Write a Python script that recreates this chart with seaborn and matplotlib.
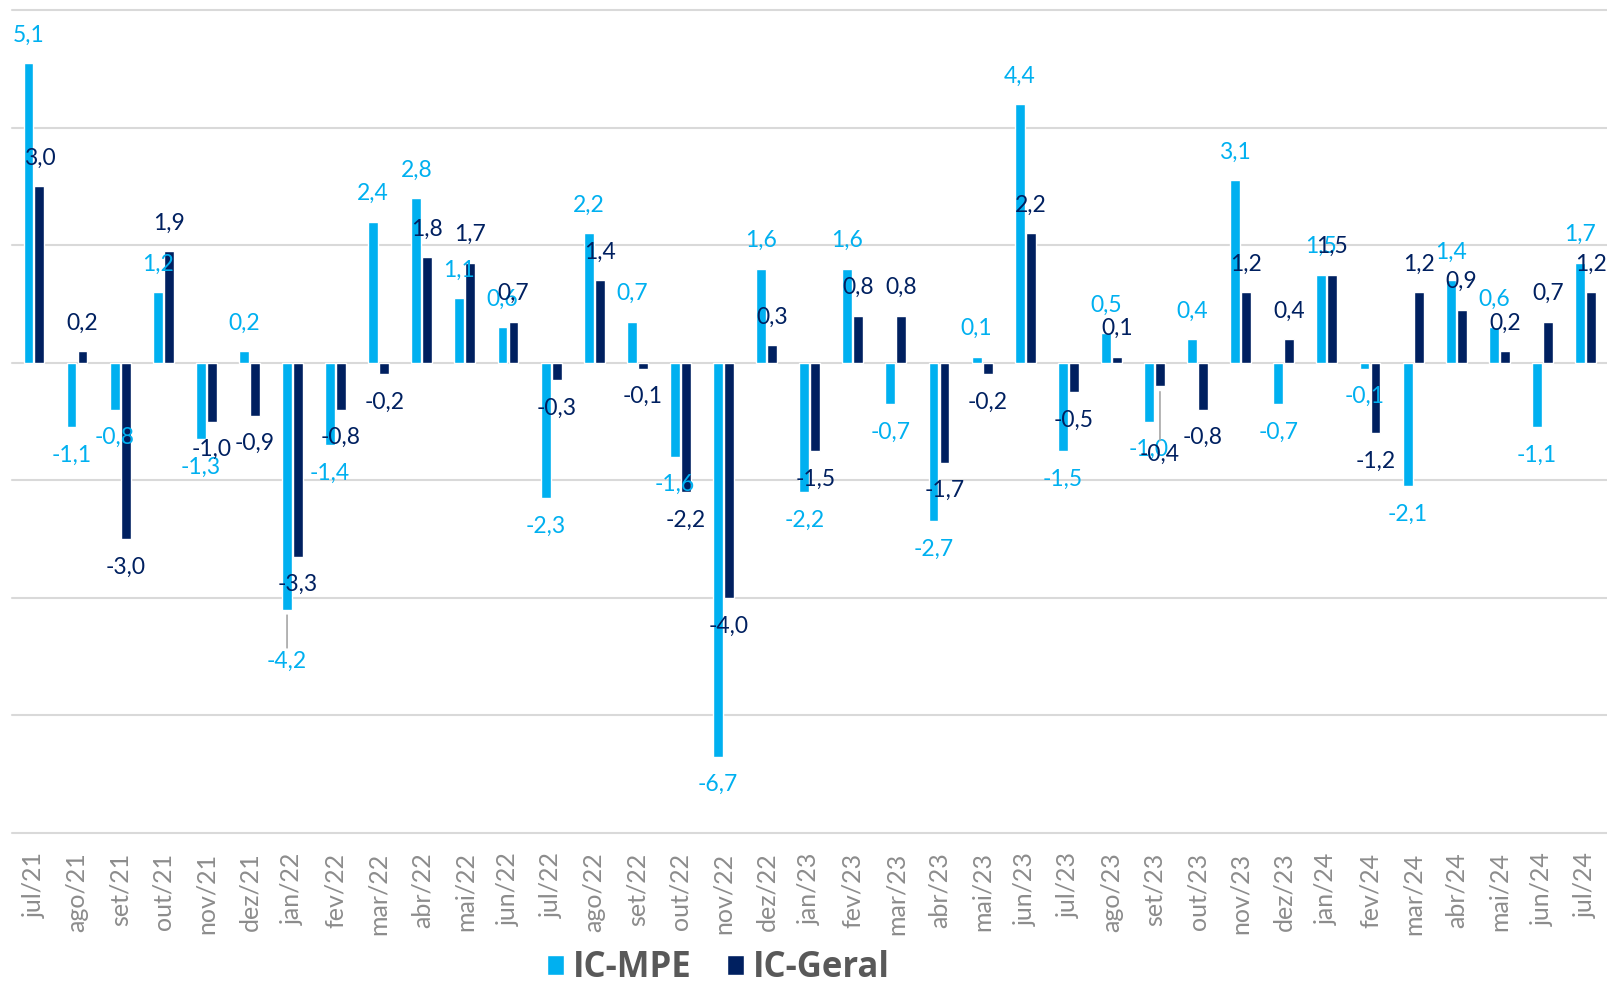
import pandas as pd
import matplotlib.pyplot as plt
import seaborn as sns

meses = ["jul/21", "ago/21", "set/21", "out/21", "nov/21", "dez/21",
         "jan/22", "fev/22", "mar/22", "abr/22", "mai/22", "jun/22",
         "jul/22", "ago/22", "set/22", "out/22", "nov/22", "dez/22",
         "jan/23", "fev/23", "mar/23", "abr/23", "mai/23", "jun/23",
         "jul/23", "ago/23", "set/23", "out/23", "nov/23", "dez/23",
         "jan/24", "fev/24", "mar/24", "abr/24", "mai/24", "jun/24",
         "jul/24"]
ic_mpe = [5.1, -1.1, -0.8, 1.2, -1.3, 0.2,
          -4.2, -1.4, 2.4, 2.8, 1.1, 0.6,
          -2.3, 2.2, 0.7, -1.6, -6.7, 1.6,
          -2.2, 1.6, -0.7, -2.7, 0.1, 4.4,
          -1.5, 0.5, -1.0, 0.4, 3.1, -0.7,
          1.5, -0.1, -2.1, 1.4, 0.6, -1.1,
          1.7]
ic_geral = [3.0, 0.2, -3.0, 1.9, -1.0, -0.9,
            -3.3, -0.8, -0.2, 1.8, 1.7, 0.7,
            -0.3, 1.4, -0.1, -2.2, -4.0, 0.3,
            -1.5, 0.8, 0.8, -1.7, -0.2, 2.2,
            -0.5, 0.1, -0.4, -0.8, 1.2, 0.4,
            1.5, -1.2, 1.2, 0.9, 0.2, 0.7,
            1.2]
series = ["IC-MPE", "IC-Geral"]
cores = {"IC-MPE": "#00B0F0", "IC-Geral": "#002060"}

df = pd.DataFrame({
    "mes": meses * 2,
    "serie": ["IC-MPE"] * len(meses) + ["IC-Geral"] * len(meses),
    "valor": ic_mpe + ic_geral,
})

sns.set_style("white")
plt.rcParams["font.family"] = ["Lato", "DejaVu Sans"]

fig = plt.figure(figsize=(16.07, 9.86), dpi=100)
ax = fig.add_axes([12.4 / 1607, 153 / 986, 1 - 12.4 / 1607, 823 / 986])

sns.barplot(data=df, x="mes", y="valor", hue="serie", hue_order=series,
            order=meses, palette=cores, width=0.51, gap=0.1,
            saturation=1, errorbar=None, ax=ax)

ax.set_ylim(-8, 6)
ax.set_yticks(range(-8, 7, 2))
ax.set_yticklabels([])
ax.grid(axis="y", color="#D9D9D9", linewidth=1.5, clip_on=False)
ax.set_axisbelow(True)
for s in ax.spines.values():
    s.set_visible(False)
ax.set_xlabel("")
ax.set_ylabel("")
ax.tick_params(axis="x", length=0, pad=14, labelsize=18, labelcolor="#8C8C8C", rotation=90)
ax.tick_params(axis="y", length=0)

# rotulos de dados (alguns com linha de chamada)
chamadas = {("IC-MPE", "jan/22"): 52, ("IC-Geral", "set/23"): 68}
for serie, cont in zip(series, ax.containers):
    for mes, bar in zip(meses, cont):
        v = bar.get_height()
        x = bar.get_x() + bar.get_width() / 2
        off = chamadas.get((serie, mes), 28) / 100 * 72
        sinal = 1 if v >= 0 else -1
        txt = f"{v:.1f}".replace(".", ",")
        props = None
        if (serie, mes) in chamadas:
            props = dict(arrowstyle="-", color="#A6A6A6", lw=1.2, shrinkA=0, shrinkB=4)
        ax.annotate(txt, (x, v), xytext=(0, sinal * off), textcoords="offset points",
                    ha="center", va="center", fontsize=16.5, color=cores[serie],
                    arrowprops=props)

handles, labels = ax.get_legend_handles_labels()
ax.legend_.remove()
leg = fig.legend(handles, labels, loc="center", bbox_to_anchor=(0.447, 0.018),
                 ncol=2, frameon=False, handlelength=0.5, handleheight=0.5,
                 handletextpad=0.25, columnspacing=1.0,
                 prop={"family": "Open Sans", "weight": "bold", "size": 25})
for t in leg.get_texts():
    t.set_color("#595959")

plt.savefig("out.png", dpi=100)
